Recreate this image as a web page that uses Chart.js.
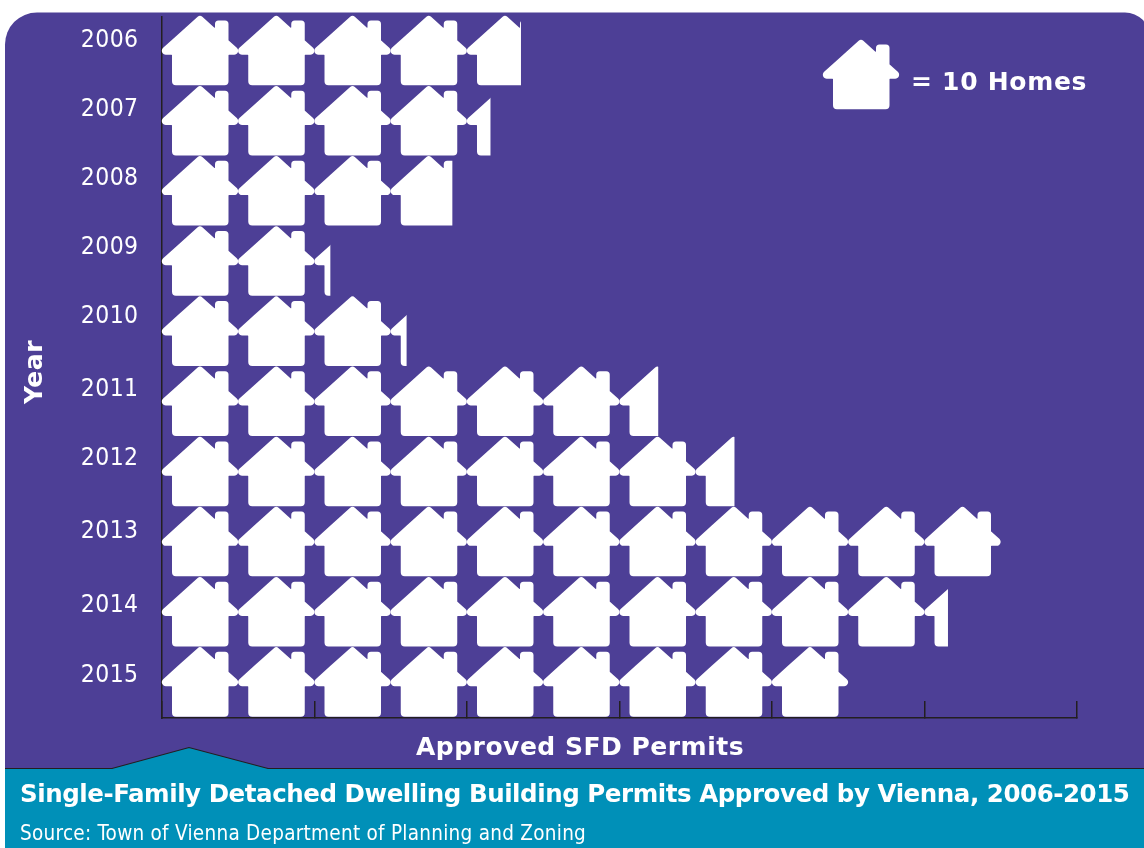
<!DOCTYPE html>
<html>
<head>
<meta charset="utf-8">
<title>Single-Family Detached Dwelling Building Permits</title>
<script src="https://cdn.jsdelivr.net/npm/chart.js@4"></script>
<style>
  html, body { margin: 0; padding: 0; background: #fff; }
  canvas { display: block; }
</style>
</head>
<body>
<canvas id="myChart" width="1144" height="848"></canvas>
<script>
// chart data
const years = ['2006', '2007', '2008', '2009', '2010', '2011', '2012', '2013', '2014', '2015'];
const permits = [47, 43, 38, 22, 32, 65, 75, 110, 103, 90];
const homesPerIcon = 10;
const axisMax = 120;
const axisStep = 20;

// the year labels do not sit evenly in the original, so nudge each one
const yearNudge = [-10.5, -12, -13, -14, -15.5, -13, -14, -11, -7.5, -7];

const PURPLE = '#4d3f96';
const TEAL = '#0090b8';
const DARK = '#231f20';
const WIDE = '"DejaVu Sans"';
const NARROW = '"DejaVu Sans Condensed", "DejaVu Sans"';

// polygon with rounded corners, each point is [x, y, radius]
const roundedPath = (ctx, pts) => {
  ctx.beginPath();
  const last = pts[pts.length - 1];
  ctx.moveTo((last[0] + pts[0][0]) / 2, (last[1] + pts[0][1]) / 2);
  for (let i = 0; i < pts.length; i++) {
    const p = pts[i];
    const next = pts[(i + 1) % pts.length];
    ctx.arcTo(p[0], p[1], next[0], next[1], p[2]);
  }
  ctx.closePath();
};

// one house icon, outline given for a 76 x 69 box
const drawHouse = (ctx, x, y) => {
  ctx.save();
  ctx.translate(x, y);
  roundedPath(ctx, [
    [38, -1.8, 3.5],
    [53, 11.7, 0.5],
    [53, 4, 3.5],
    [66.5, 4, 3.5],
    [66.5, 23.9, 0.5],
    [82.6, 38.3, 4],
    [66.5, 38.3, 0.5],
    [66.5, 68.8, 4],
    [10, 68.8, 4],
    [10, 38.3, 0.5],
    [-6.6, 38.3, 4]
  ]);
  ctx.fillStyle = '#fff';
  ctx.fill();
  ctx.restore();
};

const drawText = (ctx, text, x, y, font, align, spacing) => {
  ctx.font = font;
  ctx.letterSpacing = (spacing || 0) + 'px';
  ctx.fillStyle = '#fff';
  ctx.textAlign = align || 'left';
  ctx.textBaseline = 'middle';
  ctx.fillText(text, x, y);
};

// panel and teal caption box go under everything
const panelPlugin = {
  id: 'panel',
  beforeDraw(chart) {
    const ctx = chart.ctx;
    ctx.save();
    ctx.fillStyle = '#fff';
    ctx.fillRect(0, 0, 1144, 848);
    ctx.beginPath();
    ctx.roundRect(5, 12.5, 1145, 860, [32, 25, 0, 0]);
    ctx.fillStyle = PURPLE;
    ctx.fill();

    ctx.beginPath();
    ctx.moveTo(5, 768.5);
    ctx.lineTo(112, 768.5);
    ctx.lineTo(189, 747.5);
    ctx.lineTo(268, 768.5);
    ctx.lineTo(1144, 768.5);
    ctx.lineTo(1144, 848);
    ctx.lineTo(5, 848);
    ctx.closePath();
    ctx.fillStyle = TEAL;
    ctx.fill();
    ctx.beginPath();
    ctx.moveTo(5, 768.5);
    ctx.lineTo(112, 768.5);
    ctx.lineTo(189, 747.5);
    ctx.lineTo(268, 768.5);
    ctx.lineTo(1144, 768.5);
    ctx.strokeStyle = DARK;
    ctx.lineWidth = 1.2;
    ctx.stroke();
    ctx.restore();
  }
};

// repeats the house icon along each bar and clips it at the bar's value
const housePlugin = {
  id: 'houses',
  afterDatasetsDraw(chart) {
    const ctx = chart.ctx;
    const xScale = chart.scales.x;
    const base = xScale.getPixelForValue(0);
    const tile = xScale.getPixelForValue(homesPerIcon) - base;
    chart.getDatasetMeta(0).data.forEach((bar, i) => {
      const top = bar.y - bar.height / 2;
      ctx.save();
      ctx.beginPath();
      ctx.rect(base - 4, top - 4, bar.x - base + 4.6, bar.height + 8);
      ctx.clip();
      const count = Math.ceil(permits[i] / homesPerIcon);
      for (let n = 0; n < count; n++) {
        drawHouse(ctx, base + n * tile, top);
      }
      ctx.restore();
    });
  }
};

// texts that do not sit where the library would put them
const textPlugin = {
  id: 'texts',
  afterDraw(chart) {
    const ctx = chart.ctx;
    const yScale = chart.scales.y;
    ctx.save();
    years.forEach((year, i) => {
      drawText(ctx, year, 138.5, yScale.getPixelForTick(i) + yearNudge[i], '24.5px ' + NARROW, 'right', 0.4);
    });
    drawText(ctx, 'Approved SFD Permits', 580, 748, 'bold 25px ' + WIDE, 'center', 0.5);
    drawHouse(ctx, 823, 40.5);
    drawText(ctx, '= 10 Homes', 911, 83, 'bold 25px ' + WIDE, 'left', 0.7);
    drawText(ctx, 'Single-Family Detached Dwelling Building Permits Approved by Vienna, 2006-2015', 20, 796, 'bold 24.5px ' + WIDE, 'left', -0.44);
    drawText(ctx, 'Source: Town of Vienna Department of Planning and Zoning', 20, 835, '20.5px ' + NARROW, 'left', 0.27);
    ctx.translate(35, 372);
    ctx.rotate(-Math.PI / 2);
    drawText(ctx, 'Year', 0, 0, 'bold 25px ' + WIDE, 'center', 0.5);
    ctx.restore();
  }
};

const ctx = document.getElementById('myChart').getContext('2d');
const myChart = new Chart(ctx, {
  type: 'bar',
  data: {
    labels: years,
    datasets: [
      {
        label: 'Approved SFD Permits',
        data: permits,
        backgroundColor: 'transparent',
        barPercentage: 1,
        categoryPercentage: 1,
      },
    ],
  },
  options: {
    indexAxis: 'y',
    responsive: false,
    animation: false,
    layout: { padding: { top: 16.5, right: 67 } },
    plugins: {
      legend: { display: false },
      tooltip: { enabled: false },
    },
    scales: {
      x: {
        min: 0,
        max: axisMax,
        afterFit: (scale) => { scale.height = 130; },
        ticks: { display: false, stepSize: axisStep },
        border: { color: DARK, width: 1.5 },
        grid: { drawOnChartArea: false, color: DARK, lineWidth: 1.5, tickLength: -17 },
      },
      y: {
        afterFit: (scale) => { scale.width = 162; },
        ticks: { display: false },
        border: { color: DARK, width: 1.5 },
        grid: { drawOnChartArea: false, drawTicks: false },
      },
    },
  },
  plugins: [panelPlugin, housePlugin, textPlugin],
});
</script>
</body>
</html>
